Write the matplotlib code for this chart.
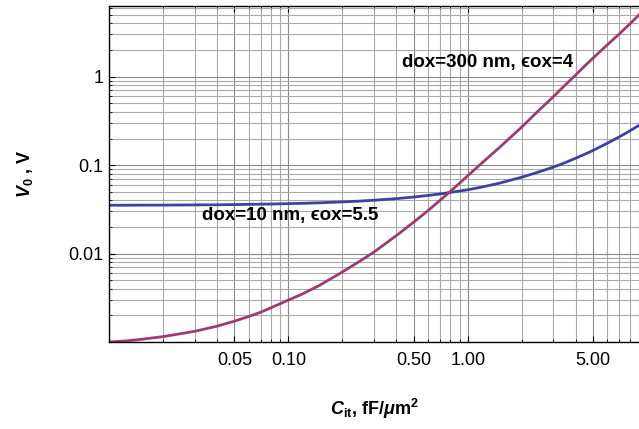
import numpy as np
import matplotlib
matplotlib.use("Agg")
import matplotlib.pyplot as plt
import matplotlib.ticker as ticker

plt.rcParams['font.family'] = ['Liberation Sans', 'DejaVu Sans']
plt.rcParams['mathtext.fontset'] = 'custom'
plt.rcParams['mathtext.rm'] = 'Liberation Sans'
plt.rcParams['mathtext.it'] = 'Liberation Sans:italic'
plt.rcParams['mathtext.bf'] = 'Liberation Sans:bold'
plt.rcParams['mathtext.bfit'] = 'Liberation Sans:bold:italic'

# values
cit = [0.01, 0.0125, 0.015, 0.02, 0.03, 0.04, 0.05, 0.06, 0.07, 0.08, 0.09,
       0.1, 0.12, 0.15, 0.2, 0.25, 0.3, 0.4, 0.5, 0.6, 0.7, 0.8,
       1.0, 1.2, 1.5, 2.0, 2.5, 3.0, 3.5, 4.0, 4.5, 5.0, 6.0, 7.0, 8.0, 9.0]
v0_thin = [0.0352, 0.0352, 0.0353, 0.0353, 0.0355, 0.0356, 0.0358, 0.0360,
           0.0362, 0.0363, 0.0365, 0.0367, 0.0370, 0.0375, 0.0384, 0.0392,
           0.0401, 0.0418, 0.0436, 0.0454, 0.0472, 0.0491, 0.0527, 0.0565,
           0.0625, 0.073, 0.084, 0.095, 0.107, 0.120, 0.133, 0.147, 0.177,
           0.209, 0.244, 0.282]
v0_thick = [0.00100, 0.00103, 0.00107, 0.00115, 0.00132, 0.00151, 0.00172,
            0.00194, 0.00217, 0.00244, 0.00271, 0.00298, 0.0035, 0.0044,
            0.0062, 0.0082, 0.0104, 0.0160, 0.0227, 0.0306, 0.0400, 0.0505,
            0.076, 0.106, 0.158, 0.270, 0.42, 0.595, 0.81, 1.05, 1.33, 1.63,
            2.30, 3.05, 3.95, 5.0]

xticks = [0.05, 0.1, 0.5, 1.0, 5.0]
xtick_labels = ['0.05', '0.10', '0.50', '1.00', '5.00']
yticks = [0.01, 0.1, 1]
ytick_labels = ['0.01', '0.1', '1']

label_thin = 'dox=10 nm, \u03f5ox=5.5'
label_thick = 'dox=300 nm, \u03f5ox=4'

fig = plt.figure(figsize=(6.39, 4.29), dpi=100)
ax = fig.add_axes([109/639, 1 - 342/429, 530/639, 336/429])
ax.set_xscale('log')
ax.set_yscale('log')
ax.set_xlim(0.01, 9.0)
ax.set_ylim(0.001, 6.3)

# grid at every 1..9 of each decade
ax.xaxis.set_minor_locator(ticker.LogLocator(base=10, subs=np.arange(1, 10)))
ax.yaxis.set_minor_locator(ticker.LogLocator(base=10, subs=np.arange(1, 10)))
ax.grid(True, which='minor', color='#aaaaaa', lw=0.8)
ax.grid(True, which='major', color='#888888', lw=0.8)
ax.set_axisbelow(True)

ax.plot(cit, v0_thin, color='#4141a0', lw=2.0)
ax.plot(cit, v0_thick, color='#9c3c72', lw=2.0)

ax.set_xticks(xticks)
ax.set_xticklabels(xtick_labels)
ax.set_yticks(yticks)
ax.set_yticklabels(ytick_labels)
ax.xaxis.set_minor_formatter(ticker.NullFormatter())
ax.yaxis.set_minor_formatter(ticker.NullFormatter())
ax.tick_params(which='both', direction='in', top=True, labelsize=13)
ax.tick_params(axis='x', pad=7)
ax.tick_params(axis='y', pad=4)
ax.tick_params(which='major', length=4, width=0.8)
ax.tick_params(which='minor', length=2, width=0.6)

for s in ['left', 'bottom', 'top']:
    ax.spines[s].set_linewidth(1.0)
ax.spines['right'].set_visible(False)

ax.text(0.033, 0.027, label_thin, fontsize=13.5, fontweight='bold',
        ha='left', va='center')
ax.text(1.29, 1.45, label_thick, fontsize=13.5, fontweight='bold',
        ha='center', va='center')

ax.set_xlabel(r'$\mathbfit{C}_{\mathbf{it}}$, fF/$\mathbfit{\mu}$m$^{\mathbf{2}}$',
              fontsize=13, fontweight='bold', labelpad=20)
ax.set_ylabel(r'$\mathbfit{V}_{\mathbf{0}}$ , V', fontsize=13,
              fontweight='bold', labelpad=24)

fig.savefig('out.png', dpi=100)
